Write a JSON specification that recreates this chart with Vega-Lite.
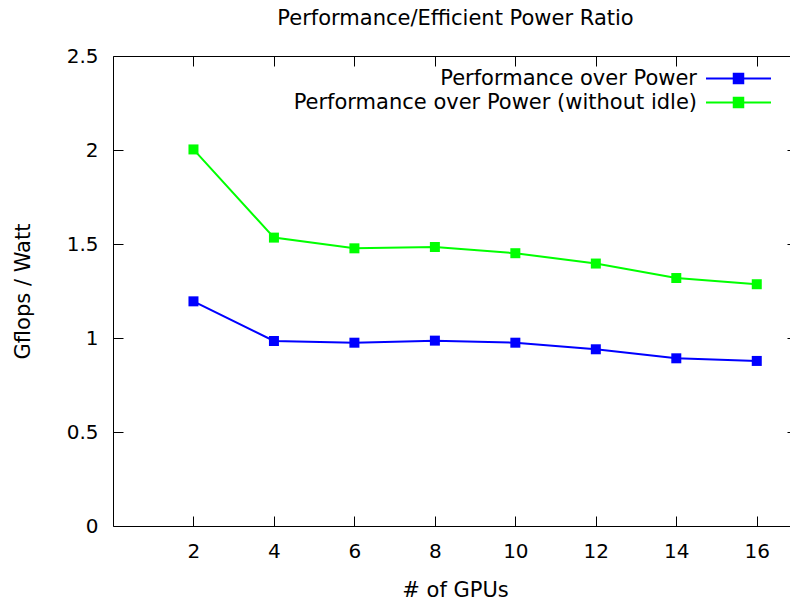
{
  "$schema": "https://vega.github.io/schema/vega-lite/v6.json",
  "width": 684,
  "height": 470,
  "autosize": {"type": "none"},
  "padding": {"left": 113, "top": 56, "right": -7, "bottom": 74},
  "background": "white",
  "config": {
    "font": "DejaVu Sans",
    "view": {"stroke": null},
    "axis": {
      "grid": false,
      "domainColor": "#000000",
      "tickColor": "#000000",
      "labelColor": "#000000",
      "titleColor": "#000000",
      "labelFontSize": 20,
      "titleFontSize": 21,
      "titleFontWeight": "normal",
      "labelFont": "DejaVu Sans",
      "titleFont": "DejaVu Sans",
      "tickSize": -10,
      "domainWidth": 1,
      "tickWidth": 1
    },
    "legend": {
      "labelFont": "DejaVu Sans",
      "labelFontSize": 21,
      "labelColor": "#000000"
    }
  },
  "data": {
    "values": [
      {"gpus": 2, "ratio": 1.195, "series": "Performance over Power"},
      {"gpus": 4, "ratio": 0.984, "series": "Performance over Power"},
      {"gpus": 6, "ratio": 0.975, "series": "Performance over Power"},
      {"gpus": 8, "ratio": 0.986, "series": "Performance over Power"},
      {"gpus": 10, "ratio": 0.975, "series": "Performance over Power"},
      {"gpus": 12, "ratio": 0.940, "series": "Performance over Power"},
      {"gpus": 14, "ratio": 0.892, "series": "Performance over Power"},
      {"gpus": 16, "ratio": 0.878, "series": "Performance over Power"},
      {"gpus": 2, "ratio": 2.003, "series": "Performance over Power (without idle)"},
      {"gpus": 4, "ratio": 1.534, "series": "Performance over Power (without idle)"},
      {"gpus": 6, "ratio": 1.477, "series": "Performance over Power (without idle)"},
      {"gpus": 8, "ratio": 1.484, "series": "Performance over Power (without idle)"},
      {"gpus": 10, "ratio": 1.451, "series": "Performance over Power (without idle)"},
      {"gpus": 12, "ratio": 1.396, "series": "Performance over Power (without idle)"},
      {"gpus": 14, "ratio": 1.319, "series": "Performance over Power (without idle)"},
      {"gpus": 16, "ratio": 1.286, "series": "Performance over Power (without idle)"}
    ]
  },
  "layer": [
    {
      "mark": {"type": "line", "strokeWidth": 2},
      "encoding": {
        "x": {
          "field": "gpus", "type": "quantitative",
          "scale": {"domain": [0, 17], "nice": false, "zero": false},
          "axis": {"orient": "bottom", "values": [2, 4, 6, 8, 10, 12, 14, 16], "title": "# of GPUs", "labelPadding": 25, "titlePadding": 18}
        },
        "y": {
          "field": "ratio", "type": "quantitative",
          "scale": {"domain": [0, 2.5], "nice": false},
          "axis": {"orient": "left", "values": [0, 0.5, 1, 1.5, 2, 2.5], "format": ".1~f", "title": "Gflops / Watt", "labelPadding": 25, "titlePadding": 33}
        },
        "color": {
          "field": "series", "type": "nominal",
          "scale": {"domain": ["Performance over Power", "Performance over Power (without idle)"], "range": ["#0000ff", "#00ff00"]},
          "legend": {
            "title": null,
            "orient": "none",
            "legendX": 615,
            "legendY": 12,
            "padding": 0,
            "rowPadding": 2,
            "labelLimit": 0,
            "symbolType": "M-6.5,0H6.5M-0.95,-0.95H0.95V0.95H-0.95Z",
            "symbolSize": 100,
            "symbolStrokeWidth": 2,
            "labelAlign": "right",
            "labelOffset": -52,
            "encode": {
              "symbols": {"update": {"fill": {"scale": "color", "field": "value"}, "stroke": {"scale": "color", "field": "value"}, "opacity": {"value": 1}}}
            }
          }
        }
      }
    },
    {
      "mark": {"type": "point", "shape": "square", "filled": true, "size": 100, "opacity": 1},
      "encoding": {
        "x": {"field": "gpus", "type": "quantitative", "axis": {"orient": "top", "values": [2, 4, 6, 8, 10, 12, 14, 16], "labels": false, "title": "Performance/Efficient Power Ratio", "titlePadding": 27}},
        "y": {"field": "ratio", "type": "quantitative", "axis": {"orient": "right", "values": [0, 0.5, 1, 1.5, 2, 2.5], "labels": false, "title": null}},
        "color": {"field": "series", "type": "nominal"}
      }
    }
  ],
  "resolve": {"axis": {"x": "independent", "y": "independent"}}
}
